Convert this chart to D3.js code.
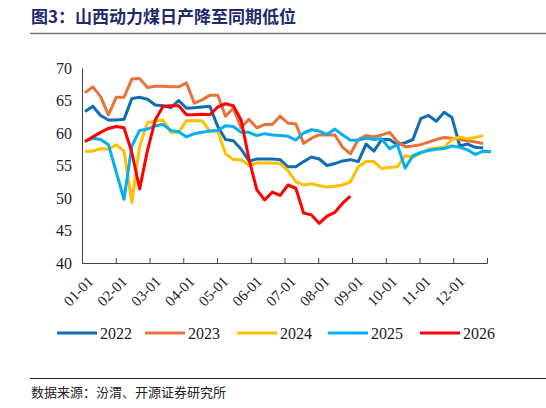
<!DOCTYPE html><html><head><meta charset="utf-8"><script src="https://cdn.jsdelivr.net/npm/d3@7"></script>
<style>body{margin:0;background:#fff} .sf{font-family:"Liberation Serif","DejaVu Serif","Times New Roman",serif}</style></head><body><svg id="c" width="546" height="408"></svg>
<script>
const months=["01-01","02-01","03-01","04-01","05-01","06-01","07-01","08-01","09-01","10-01","11-01","12-01"];
const yTicks=[40,45,50,55,60,65,70];
const s2022=[63.3,64.1,62.7,62,62,62.1,65.3,65.5,65.2,64.3,64.2,63.9,65,63.8,63.9,64,64.1,61,59,58.8,57.5,55.7,56,56,56,55.9,54.8,54.8,55.6,56.3,56,55,55.3,55.7,55.9,55.6,58.3,57.2,59,59,58.2,58.5,59,62.2,62.7,61.8,63.2,62.4,58,58.3,57.8,57.7];
const s2023=[66.2,67.1,65.6,62.8,65.5,65.5,68.3,68.4,67,67.2,67.2,67.1,67.1,67.7,64.6,65.1,65.8,65.8,62.6,63.8,60.8,62.1,60.8,61.3,61.3,62.6,61.5,61.4,58.4,59.2,59.7,59.7,59.7,57.8,56.8,59,59.6,59.4,59.7,60.1,58.7,57.9,58,58.2,58.6,59,59.3,59.2,59,58.8,58.6,58.4];
const s2024=[57.2,57.2,57.6,57.5,58.2,57.2,49.3,58,61.6,61.8,62,60.1,60.1,61.9,61.9,61.9,60.3,60.3,56.8,55.9,55.9,55,55.4,55.4,55.4,55.3,54.2,52.5,52,52.2,51.9,51.7,51.8,52,52.5,54.8,55.6,55.6,54.5,54.7,54.8,56.5,56.3,56.9,57.5,57.7,57.8,59,59.4,59.1,59.3,59.6];
const s2025=[58.7,59.2,59,58.2,54,49.8,58,60.4,60.6,61.1,61.3,60.4,60.2,59.4,59.9,60.1,60.3,60.4,61.1,61,60.1,60.1,59.6,59.9,59.7,59.6,59.5,58.9,60,60.5,60.3,59.8,60.6,59.7,58.9,58.9,59.2,59,59.1,57.6,58.2,54.6,56.5,57,57.3,57.5,57.6,58,57.8,57.4,56.7,57.2,57.1];
const s2026=[58.7,59.4,60.1,60.7,61,60.8,57,51.4,57.3,62,64.1,64.2,64.2,62.8,62.8,62.9,62.8,64,64.5,64.2,62,56,51.3,49.7,50.9,50.4,52,51.5,47.7,47.4,46.1,47.2,47.8,49.2,50.3];
const series=[["2022",s2022,"#0e6db5"],["2023",s2023,"#e8733a"],["2024",s2024,"#ffc000"],["2025",s2025,"#00b0f0"],["2026",s2026,"#ff0000"]];
const svg=d3.select("#c");
svg.append("text").attr("x",31).attr("y",23).attr("font-family","'Noto Sans CJK SC',sans-serif").attr("font-weight","bold").attr("font-size",17).attr("fill","#1f2a6e").text("图3：山西动力煤日产降至同期低位");
svg.append("line").attr("x1",30).attr("x2",546).attr("y1",33.5).attr("y2",33.5).attr("stroke","#777").attr("stroke-width",1.5);
const L=82,R=487,T=68,B=263;
const x=d3.scaleLinear().domain([0,52]).range([85,491]);
const mx=d3.scaleLinear().domain([0,12]).range([L,R]);
const y=d3.scaleLinear().domain([40,70]).range([B,T]);
const g=svg.append("g");
g.append("g").attr("transform",`translate(${L},0)`).call(d3.axisLeft(y).tickValues(yTicks).tickSize(0).tickPadding(10))
 .call(a=>{a.attr("font-family",null);a.select(".domain").attr("stroke","#444");a.selectAll("text").attr("class","sf").style("font-size","16px").attr("fill","#222");});
const xa=g.append("g").attr("transform",`translate(0,${B})`).call(d3.axisBottom(mx).tickValues(d3.range(13)).tickSize(-5).tickFormat(""));
xa.select(".domain").attr("stroke","#444");xa.selectAll("line").attr("stroke","#444");
g.selectAll(".ml").data(months).join("text").attr("class","sf").style("font-size","15px").attr("fill","#222")
 .attr("text-anchor","end").attr("transform",(d,i)=>`translate(${mx(i)+5},${B+12}) rotate(-45)`).attr("dy","0.7em").text(d=>d);
const line=d3.line().x((d,i)=>x(i)).y(d=>y(d));
series.forEach(([n,v,c])=>g.append("path").attr("d",line(v)).attr("fill","none").attr("stroke",c).attr("stroke-width",3).attr("stroke-linejoin","round"));
const lx=[57,145,237,328,420];
series.forEach(([n,v,c],i)=>{svg.append("line").attr("x1",lx[i]).attr("x2",lx[i]+40).attr("y1",333).attr("y2",333).attr("stroke",c).attr("stroke-width",3);
 svg.append("text").attr("x",lx[i]+43).attr("y",339).attr("class","sf").style("font-size","16px").attr("fill","#222").text(n);});
svg.append("line").attr("x1",30).attr("x2",546).attr("y1",378.5).attr("y2",378.5).attr("stroke","#222").attr("stroke-width",1);
svg.append("text").attr("x",31).attr("y",397).attr("font-family","'Noto Sans CJK SC',sans-serif").attr("font-size",13).attr("fill","#222").text("数据来源：汾渭、开源证券研究所");
</script></body></html>
